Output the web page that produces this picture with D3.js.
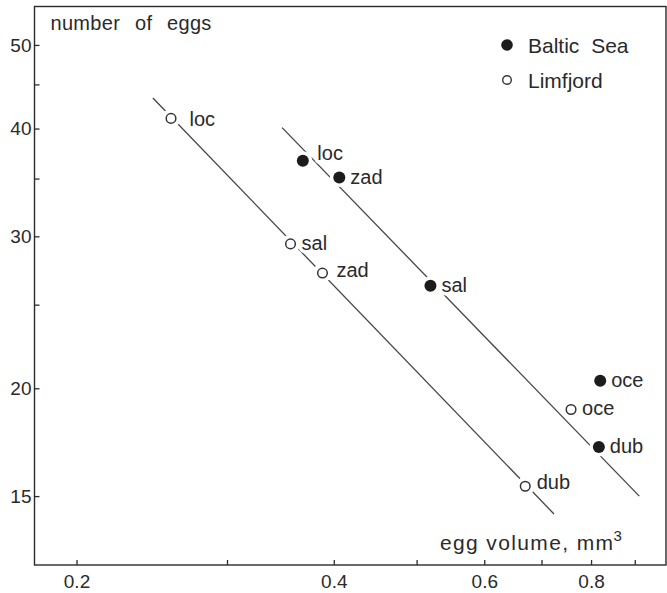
<!DOCTYPE html>
<html>
<head>
<meta charset="utf-8">
<script src="https://cdn.jsdelivr.net/npm/d3@7"></script>
<style>
  html, body { margin: 0; padding: 0; background: #fff; }
  svg { display: block; }
  text { font-family: "Liberation Sans", Arial, Helvetica, sans-serif; fill: #2a2a2a; }
</style>
</head>
<body>
<svg id="chart" width="667" height="593"></svg>
<script>
// Populations sampled at five sites
const sites = ["loc", "sal", "zad", "oce", "dub"];

// Baltic Sea: egg volume (mm3) and number of eggs per site
const balticVolume = [0.368, 0.519, 0.406, 0.820, 0.817];
const balticEggs   = [36.7, 26.3, 35.1, 20.4, 17.1];

// Limfjord: egg volume (mm3) and number of eggs per site
const limfjordVolume = [0.258, 0.356, 0.388, 0.758, 0.670];
const limfjordEggs   = [41.1, 29.4, 27.2, 18.9, 15.4];

// Fitted lines (end points in data units)
const balticFitVolume   = [0.348, 0.911];
const balticFitEggs     = [40.1, 15.0];
const limfjordFitVolume = [0.2457, 0.724];
const limfjordFitEggs   = [43.4, 14.3];

// Axis ticks
const xMajorTicks = [0.2, 0.4, 0.6, 0.8];
const xMinorTicks = [0.3, 0.5, 0.7, 0.9];
const yMajorTicks = [15, 20, 30, 40, 50];
const yMinorTicks = [25, 35, 45];

const seriesNames = ["Baltic Sea", "Limfjord"];

// ---- layout ----
const plotLeft = 34.5, plotRight = 666, plotTop = 6.5, plotBottom = 565;

const x = d3.scaleLog().domain([0.1786, 0.979]).range([plotLeft, plotRight]);
const y = d3.scaleLog().domain([12.48, 55.4]).range([plotBottom, plotTop]);

const svg = d3.select("#chart");
const ink = "#2b2b2b";

// frame
svg.append("rect")
  .attr("x", plotLeft).attr("y", plotTop)
  .attr("width", plotRight - plotLeft).attr("height", plotBottom - plotTop)
  .attr("fill", "none").attr("stroke", ink).attr("stroke-width", 1.4);

// axes (ticks point inward)
svg.append("g").attr("transform", `translate(0,${plotBottom})`)
  .call(d3.axisBottom(x).tickValues(xMajorTicks).tickSize(-5).tickPadding(9.5)
    .tickFormat(d3.format(".1f")));
svg.append("g").attr("transform", `translate(0,${plotBottom})`)
  .call(d3.axisBottom(x).tickValues(xMinorTicks).tickSize(-5).tickFormat(""));

svg.append("g").attr("transform", `translate(${plotLeft},0)`)
  .call(d3.axisLeft(y).tickValues(yMajorTicks).tickSize(-5).tickPadding(3)
    .tickFormat(d3.format("d")));
svg.append("g").attr("transform", `translate(${plotLeft},0)`)
  .call(d3.axisLeft(y).tickValues(yMinorTicks).tickSize(-5).tickFormat(""));

svg.selectAll(".domain").remove();
svg.selectAll(".tick line").attr("stroke", ink).attr("stroke-width", 1.3);
svg.selectAll(".tick text").attr("font-size", 19).attr("fill", ink)
  .attr("font-family", "Liberation Sans, Arial, sans-serif");

// axis titles
svg.append("text")
  .attr("x", 50.5).attr("y", 30)
  .attr("font-size", 20)
  .attr("word-spacing", 9)
  .attr("letter-spacing", 0.3)
  .text("number of eggs");

svg.append("text")
  .attr("x", 440).attr("y", 550)
  .attr("font-size", 21)
  .attr("textLength", 173).attr("lengthAdjust", "spacing")
  .text("egg volume, mm");
svg.append("text")
  .attr("x", 613.5).attr("y", 541)
  .attr("font-size", 15)
  .text("3");

// fitted lines
const line = d3.line().x(d => x(d[0])).y(d => y(d[1]));
const fits = [
  d3.zip(balticFitVolume, balticFitEggs),
  d3.zip(limfjordFitVolume, limfjordFitEggs)
];
svg.append("g").selectAll("path").data(fits).join("path")
  .attr("d", line)
  .attr("fill", "none").attr("stroke", "#444").attr("stroke-width", 1.3);

// point data
const points = [];
sites.forEach((s, i) => {
  points.push({ series: 0, site: s, v: balticVolume[i], n: balticEggs[i] });
  points.push({ series: 1, site: s, v: limfjordVolume[i], n: limfjordEggs[i] });
});

// label placement relative to the point (default: right of the marker)
const labelNudge = {
  "1-loc": [18.5, 7.5],
  "0-loc": [14.5, -1],
  "1-zad": [14, 3.5],
  "1-dub": [11.5, 3]
};
const nudge = p => labelNudge[`${p.series}-${p.site}`] || [11, 6];

// white knock-outs break the fitted lines around markers and labels
const knock = svg.append("g");
knock.selectAll("circle").data(points).join("circle")
  .attr("cx", d => x(d.v)).attr("cy", d => y(d.n)).attr("r", 9.5)
  .attr("fill", "#fff");
knock.selectAll("text").data(points).join("text")
  .attr("x", d => x(d.v) + nudge(d)[0]).attr("y", d => y(d.n) + nudge(d)[1])
  .attr("font-size", 20)
  .attr("stroke", "#fff").attr("stroke-width", 7).attr("stroke-linejoin", "round")
  .attr("fill", "#fff")
  .text(d => d.site);

// markers
const marks = svg.append("g");
marks.selectAll("circle").data(points).join("circle")
  .attr("cx", d => x(d.v)).attr("cy", d => y(d.n))
  .attr("r", d => d.series === 0 ? 6 : 4.8)
  .attr("fill", d => d.series === 0 ? "#1c1c1c" : "#fff")
  .attr("stroke", d => d.series === 0 ? "none" : "#333")
  .attr("stroke-width", 1.5);

marks.selectAll("text").data(points).join("text")
  .attr("x", d => x(d.v) + nudge(d)[0]).attr("y", d => y(d.n) + nudge(d)[1])
  .attr("font-size", 20)
  .text(d => d.site);

// legend
const legend = svg.append("g").attr("transform", "translate(507,45)");
const lg = legend.selectAll("g").data(seriesNames).join("g")
  .attr("transform", (d, i) => `translate(0,${i * 35})`);
lg.append("circle")
  .attr("r", (d, i) => i === 0 ? 5.8 : 4.3)
  .attr("fill", (d, i) => i === 0 ? "#1c1c1c" : "#fff")
  .attr("stroke", (d, i) => i === 0 ? "none" : "#333")
  .attr("stroke-width", 1.4);
lg.append("text")
  .attr("x", 21).attr("y", 7.5)
  .attr("font-size", 21)
  .attr("word-spacing", 6)
  .text(d => d);
</script>
</body>
</html>
